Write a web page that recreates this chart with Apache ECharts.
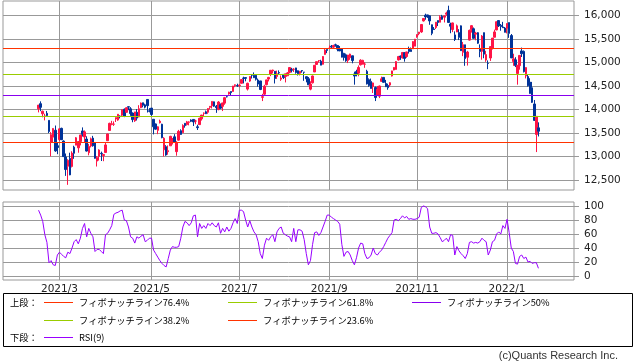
<!DOCTYPE html>
<html><head><meta charset="utf-8">
<script src="https://cdn.jsdelivr.net/npm/echarts@6/dist/echarts.min.js"></script>
<style>html,body{margin:0;padding:0;background:#fff}#c{width:638px;height:362px}</style>
</head><body><div id="c"></div>
<script>
// ---- data (daily candles from 2021-02-12 to 2022-01-25) ----
const firstCandleDate = '2021-02-12';
const axisStart = '2021-01-20';
const axisEnd = '2022-02-17';
const holidays = ['2021-02-15','2021-04-02','2021-05-31','2021-07-05','2021-09-06','2021-11-25','2021-12-24','2022-01-17'];

const openVals = [
14015,14125,13910,13855,13920,13770,13300,13413,13560,13230,
13360,13600,13330,12990,12793,12960,12789,13200,13242,13185,
13320,13545,13416,13373,13081,13224,13392,13299,12902,13008,
13068,13020,13085,13336,13555,13682,13687,13798,13777,13862,
13879,14007,13941,14060,14016,13926,13759,13943,13842,14040,
14145,14100,14215,13973,14031,13793,13694,13558,13720,13688,
13144,13210,13103,13228,13378,13420,13104,13349,13550,13508,
13707,13679,13730,13778,13790,13755,13633,13679,13802,13920,
13953,13943,14048,14080,14165,14072,14000,14100,14068,14137,
14274,14332,14385,14386,14510,14514,14510,14559,14670,14681,
14436,14606,14737,14730,14730,14628,14610,14260,14327,14531,
14650,14756,14825,14816,14706,14788,14647,14749,14706,14720,
14790,14856,14856,14887,14827,14773,14831,14797,14700,14656,
14435,14570,14800,14960,15035,15030,14965,15175,15281,15300,
15350,15330,15378,15365,15301,15299,15197,15166,15047,15106,
15146,14758,14808,14776,14953,14964,14967,14815,14636,14600,
14489,14470,14298,14286,14600,14685,14555,14512,14522,14714,
14842,14855,15057,15140,15100,15210,15130,15294,15275,15293,
15350,15547,15615,15653,15887,16009,16016,15996,15806,15715,
15747,15896,15860,15985,15967,16030,16112,15820,15704,15590,
15651,15639,15783,15219,15379,15114,15479,15703,15721,15605,
15637,15297,15240,15638,15054,14984,15098,15301,15540,15696,
15896,15795,15759,15736,15733,15853,15576,15024,15059,14767,
14935,15249,15239,14716,14703,14585,14464,14119,13470,13611];

const highVals = [
14095,14175,13977,13912,13970,13770,13520,13600,13660,13290,
13602,13614,13343,13064,12942,13081,13112,13230,13415,13322,
13460,13620,13555,13431,13270,13404,13440,13303,13011,13154,
13104,13050,13298,13488,13720,13760,13748,13830,13901,13876,
13999,14023,14048,14064,14051,13937,13951,14011,14093,14150,
14146,14125,14223,14031,14034,13793,13701,13643,13785,13697,
13412,13242,13237,13441,13386,13476,13327,13567,13580,13686,
13714,13758,13751,13792,13790,13783,13677,13826,13887,13938,
13979,14031,14075,14175,14170,14096,14181,14130,14143,14270,
14309,14380,14386,14504,14535,14551,14539,14639,14700,14684,
14572,14708,14745,14791,14737,14660,14611,14335,14527,14634,
14696,14840,14851,14818,14829,14834,14727,14752,14761,14800,
14896,14889,14880,14890,14832,14818,14837,14800,14705,14692,
14602,14724,14945,15020,15055,15060,15140,15288,15281,15364,
15375,15380,15403,15365,15353,15306,15208,15192,15163,15189,
15146,14807,14848,14940,15071,15061,15004,14847,14664,14660,
14575,14490,14502,14510,14701,14686,14632,14552,14583,14828,
14901,15033,15143,15150,15216,15226,15230,15340,15322,15455,
15504,15601,15653,15821,15950,16042,16018,16000,15810,15757,
15862,15897,16008,16017,16000,16085,16212,15850,15852,15665,
15812,15711,15791,15441,15380,15250,15703,15799,15747,15656,
15648,15387,15586,15639,15251,15047,15341,15522,15702,15871,
15896,15822,15868,15758,15833,15853,15609,15189,15115,14946,
15157,15320,15259,14902,14754,14667,14589,14204,13857,13728];

const lowVals = [
13940,13966,13835,13770,13850,13500,13003,13305,13100,13050,
13330,13350,12993,12588,12397,12602,12768,12951,13242,13081,
13237,13425,13302,13106,13026,13194,13210,12955,12787,12913,
12904,12900,13085,13336,13555,13665,13652,13735,13761,13811,
13863,13838,13941,13987,13866,13730,13738,13767,13835,14030,
14047,14026,13937,13940,13866,13471,13572,13476,13704,13389,
13002,13016,13039,13228,13256,13300,13017,13338,13463,13508,
13614,13660,13663,13733,13650,13687,13565,13673,13766,13840,
13905,13910,14008,14022,14058,13930,13985,14010,13968,14102,
14258,14317,14310,14380,14477,14483,14477,14554,14557,14601,
14406,14590,14661,14676,14617,14489,14414,14181,14303,14515,
14599,14712,14768,14555,14653,14753,14611,14650,14578,14715,
14771,14790,14800,14764,14725,14727,14785,14612,14580,14525,
14410,14555,14800,14950,15000,14945,14960,15170,15202,15298,
15291,15306,15339,15241,15248,15111,15043,15017,14990,15059,
14985,14530,14707,14709,14939,14963,14889,14534,14485,14448,
14353,14181,14289,14244,14600,14574,14484,14422,14485,14704,
14836,14852,15043,15058,15088,15020,15102,15193,15235,15293,
15350,15530,15583,15634,15875,15914,15951,15805,15584,15697,
15715,15778,15860,15913,15855,15998,15850,15626,15649,15460,
15650,15480,15250,15138,14932,14937,15470,15639,15513,15474,
15400,15115,15062,15093,15017,14860,15036,15279,15540,15690,
15758,15679,15741,15644,15622,15527,15099,14932,14905,14530,
14849,15120,14790,14663,14490,14340,14141,13767,13095,13427];

const closeVals = [
14095,14047,13965,13865,13874,13533,13465,13598,13119,13192,
13589,13359,12998,12723,12920,12609,13074,13069,13399,13320,
13460,13472,13525,13116,13215,13378,13228,12962,12978,13139,
13060,13045,13247,13480,13706,13698,13689,13829,13900,13850,
13996,13858,14039,14052,13915,13786,13950,13818,14017,14139,
14090,14051,14083,13963,13895,13634,13582,13633,13752,13402,
13389,13032,13125,13430,13379,13304,13300,13536,13471,13661,
13657,13738,13736,13749,13736,13756,13615,13814,13882,13925,
13912,14020,14069,14174,14073,14040,14161,14030,14141,14253,
14272,14370,14360,14501,14528,14504,14522,14639,14664,14665,
14560,14702,14733,14678,14645,14543,14427,14275,14499,14632,
14685,14837,14841,14661,14763,14778,14673,14681,14761,14781,
14895,14836,14860,14788,14765,14816,14823,14794,14656,14526,
14542,14715,14943,15020,15042,14946,15130,15266,15259,15309,
15331,15364,15374,15287,15248,15115,15106,15038,15162,15182,
15044,14714,14746,14897,15052,15048,14970,14547,14512,14449,
14567,14255,14434,14502,14654,14580,14486,14466,14572,14823,
14897,15022,15129,15122,15216,15090,15227,15236,15236,15448,
15498,15596,15650,15812,15940,15972,15982,15887,15623,15704,
15861,15854,15974,15922,15994,16057,15855,15775,15845,15492,
15783,15538,15254,15381,15085,15225,15687,15787,15517,15631,
15413,15238,15566,15180,15170,14981,15341,15522,15653,15871,
15782,15766,15742,15645,15833,15623,15100,15081,14936,14943,
15153,15188,14807,14894,14507,14340,14154,13769,13855,13539];

const rsiVals = [
94,87,78,59,48,19,22,16,15,30,
34,31,28,26,34,32,40,49,52,46,
54,68,75,56,68,61,56,35,38,38,
35,32,59,61,66,72,88,90,91,93,
94,80,79,70,56,54,47,56,54,57,
59,49,51,54,54,37,32,27,22,18,
15,13,25,37,42,41,41,42,54,70,
78,76,72,76,86,87,56,75,68,72,
68,75,72,76,72,70,76,61,68,63,
70,64,68,76,82,75,94,94,92,80,
70,79,70,63,59,49,32,25,44,54,
51,56,59,49,63,68,70,61,59,57,
56,49,68,49,66,66,64,52,32,16,
22,45,62,63,58,62,70,78,87,87,
84,82,80,78,74,45,28,34,35,30,
22,16,26,40,47,46,32,25,26,30,
40,32,30,34,37,42,48,54,58,62,
80,81,79,82,86,83,85,81,82,81,
81,82,84,98,100,99,96,70,61,61,
62,60,55,49,51,54,49,59,58,30,
42,36,32,29,25,32,48,49,47,48,
47,49,54,51,49,30,37,49,51,60,
63,60,72,68,81,62,40,35,18,17,
28,30,25,27,20,21,18,19,19,11];

const fibLevels = [15310, 14755, 14305, 13850, 13295];
const fibNames = ['フィボナッチライン76.4%','フィボナッチライン61.8%','フィボナッチライン50%','フィボナッチライン38.2%','フィボナッチライン23.6%'];
const fibColors = ['#ff3300','#99cc00','#8800ee','#99cc00','#ff3300'];
const priceTicks = [12500,13000,13500,14000,14500,15000,15500,16000];
const rsiTicks = [0,20,40,60,80,100];
const rsiName = 'RSI(9)';

// ---- categories (trading days) ----
function tradingDays(start, end, hol) {
  const out = []; const d = new Date(start + 'T00:00:00Z'); const e = new Date(end + 'T00:00:00Z');
  while (d <= e) {
    const wd = d.getUTCDay(); const s = d.toISOString().slice(0, 10);
    if (wd !== 0 && wd !== 6 && hol.indexOf(s) < 0) out.push(s);
    d.setUTCDate(d.getUTCDate() + 1);
  }
  return out;
}
const cats = tradingDays(axisStart, axisEnd, holidays);
const off = cats.indexOf(firstCandleDate);
const candleData = cats.map((c, i) => {
  const k = i - off;
  return (k >= 0 && k < closeVals.length) ? [openVals[k], closeVals[k], lowVals[k], highVals[k]] : ['-', '-', '-', '-'];
});
const rsiData = cats.map((c, i) => {
  const k = i - off;
  return (k >= 0 && k < rsiVals.length) ? rsiVals[k] : '-';
});
function isMark(i) {
  if (i <= 0) return false;
  const m = +cats[i].slice(5, 7), pm = +cats[i - 1].slice(5, 7);
  return m !== pm && m % 2 === 1;
}
const fmtDate = v => v.slice(0, 4) + '/' + (+v.slice(5, 7));

const GRID = '#999999';
const LBL = {fontFamily: 'DejaVu Sans', fontSize: 10.5, color: '#222'};

const chart = echarts.init(document.getElementById('c'), null, {renderer: 'canvas'});

const legendG = [];
legendG.push({type: 'rect', shape: {x: 3.5, y: 293.5, width: 629, height: 53}, style: {fill: 'none', stroke: '#000', lineWidth: 1}, silent: true});
const JP = {fontFamily: 'Noto Sans CJK JP', fontSize: 9.3, fill: '#000', textVerticalAlign: 'middle'};
function legItem(x, y, color, text) {
  legendG.push({type: 'line', shape: {x1: x, y1: y + 0.5, x2: x + 29, y2: y + 0.5}, style: {stroke: color, lineWidth: 1}, silent: true});
  legendG.push({type: 'text', x: x + 35, y: y, style: Object.assign({text: text}, JP), silent: true});
}
legendG.push({type: 'text', x: 10, y: 302, style: Object.assign({text: '上段：'}, JP)});
legItem(44, 302, fibColors[0], fibNames[0]);
legItem(228, 302, fibColors[1], fibNames[1]);
legItem(412, 302, fibColors[2], fibNames[2]);
legItem(44, 320, fibColors[3], fibNames[3]);
legItem(228, 320, fibColors[4], fibNames[4]);
legendG.push({type: 'text', x: 10, y: 337, style: Object.assign({text: '下段：'}, JP)});
legItem(44, 337, '#9900ff', rsiName);
legendG.push({type: 'text', x: 618, y: 356, style: {text: '(c)Quants Research Inc.', fontFamily: 'Liberation Sans', fontSize: 11, fill: '#333', textAlign: 'right', textVerticalAlign: 'middle'}});

const option = {
  animation: false,
  backgroundColor: '#fff',
  grid: [
    {left: 3, right: 64, top: 1, height: 189, show: true, borderColor: GRID, borderWidth: 1, backgroundColor: 'transparent'},
    {left: 3, right: 64, top: 202, height: 78, show: true, borderColor: GRID, borderWidth: 1, backgroundColor: 'transparent'}
  ],
  xAxis: [
    {type: 'category', gridIndex: 0, data: cats, boundaryGap: false,
     axisLine: {show: false}, axisTick: {show: false}, axisLabel: {show: false},
     splitLine: {show: true, interval: (i) => isMark(i), lineStyle: {color: GRID, width: 1}}},
    {type: 'category', gridIndex: 1, data: cats, boundaryGap: false,
     axisLine: {show: false}, axisTick: {show: false},
     axisLabel: Object.assign({show: true, interval: (i) => isMark(i), formatter: fmtDate, margin: 4}, LBL),
     splitLine: {show: true, interval: (i) => isMark(i), lineStyle: {color: GRID, width: 1}}}
  ],
  yAxis: [
    {type: 'value', gridIndex: 0, position: 'right', min: 12287, max: 16312,
     axisLine: {show: false},
     axisTick: {show: true, inside: false, length: 5, customValues: priceTicks, lineStyle: {color: GRID}},
     axisLabel: Object.assign({customValues: priceTicks, margin: 10, formatter: v => Number(v).toLocaleString('en-US')}, LBL),
     splitLine: {show: true, lineStyle: {color: GRID, width: 1}}},
    {type: 'value', gridIndex: 1, position: 'right', min: -5.7, max: 105.7,
     axisLine: {show: false},
     axisTick: {show: true, inside: false, length: 5, customValues: rsiTicks, lineStyle: {color: GRID}},
     axisLabel: Object.assign({customValues: rsiTicks, margin: 10}, LBL),
     splitLine: {show: true, lineStyle: {color: GRID, width: 1}}}
  ],
  series: [
    {type: 'candlestick', xAxisIndex: 0, yAxisIndex: 0, data: candleData, barWidth: 2, clip: false,
     itemStyle: {color: '#ff1446', color0: '#003399', borderColor: '#ff1446', borderColor0: '#003399', borderWidth: 1},
     markLine: {silent: true, symbol: 'none', label: {show: false}, animation: false,
       data: fibLevels.map((v, i) => ({yAxis: v, lineStyle: {color: fibColors[i], width: 1, type: 'solid'}}))}},
    {type: 'line', xAxisIndex: 1, yAxisIndex: 1, data: rsiData, showSymbol: false, symbol: 'none',
     lineStyle: {color: '#9900ff', width: 1}, connectNulls: false}
  ],
  graphic: legendG
};
chart.setOption(option);
</script>
</body></html>
